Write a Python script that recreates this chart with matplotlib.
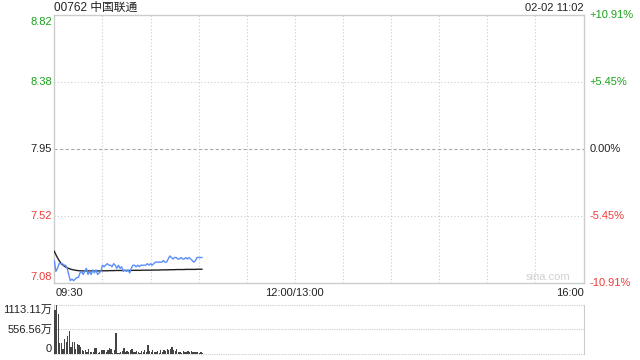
import matplotlib
matplotlib.use("Agg")
from matplotlib import pyplot as plt
import matplotlib.transforms as mtransforms

FONT = ['Liberation Sans', 'Noto Sans CJK SC', 'DejaVu Sans']
plt.rcParams['font.family'] = FONT

# chart data
title = "00762 中国联通"
stamp = "02-02 11:02"
prev_close = 7.95
price_ticks = [8.817, 8.383, 7.95, 7.517, 7.083]
price_labels = ["8.82", "8.38", "7.95", "7.52", "7.08"]
pct_labels = ["+10.91%", "+5.45%", "0.00%", "-5.45%", "-10.91%"]
label_colors = ["#1aa31a", "#1aa31a", "#222222", "#f03b3b", "#f03b3b"]
time_labels = ["09:30", "12:00/13:00", "16:00"]
vol_ticks = [1113.11, 556.56, 0]
vol_labels = ["1113.11万", "556.56万", "0"]

price = [7.23, 7.16, 7.18, 7.21, 7.21, 7.21, 7.20, 7.20, 7.18, 7.14,
         7.10, 7.11, 7.10, 7.11, 7.12, 7.12, 7.15, 7.16, 7.14, 7.16,
         7.18, 7.14, 7.16, 7.14, 7.17, 7.15, 7.17, 7.14, 7.15, 7.16,
         7.20, 7.19, 7.20, 7.21, 7.20, 7.20, 7.19, 7.21, 7.20, 7.18,
         7.20, 7.18, 7.19, 7.16, 7.17, 7.16, 7.17, 7.15, 7.18, 7.20,
         7.20, 7.19, 7.20, 7.19, 7.20, 7.20, 7.20, 7.20, 7.21, 7.20,
         7.21, 7.20, 7.21, 7.22, 7.22, 7.22, 7.22, 7.22, 7.23, 7.22,
         7.22, 7.24, 7.26, 7.25, 7.24, 7.25, 7.25, 7.24, 7.24, 7.25,
         7.24, 7.24, 7.25, 7.24, 7.25, 7.24, 7.23, 7.22, 7.23, 7.25,
         7.25, 7.25, 7.25]

avg_price = [7.290, 7.268, 7.248, 7.230, 7.215, 7.204, 7.196, 7.189, 7.184, 7.179,
             7.175, 7.172, 7.170, 7.168, 7.166, 7.165, 7.164, 7.164, 7.163, 7.163,
             7.163, 7.163, 7.163, 7.163, 7.163, 7.163, 7.163, 7.163, 7.163, 7.163,
             7.164, 7.164, 7.164, 7.164, 7.165, 7.165, 7.165, 7.165, 7.166, 7.166,
             7.166, 7.166, 7.166, 7.166, 7.166, 7.166, 7.166, 7.166, 7.166, 7.167,
             7.167, 7.167, 7.167, 7.167, 7.167, 7.168, 7.168, 7.168, 7.168, 7.168,
             7.168, 7.168, 7.169, 7.169, 7.169, 7.169, 7.169, 7.170, 7.170, 7.170,
             7.170, 7.170, 7.171, 7.171, 7.171, 7.171, 7.172, 7.172, 7.172, 7.172,
             7.172, 7.172, 7.173, 7.173, 7.173, 7.173, 7.173, 7.173, 7.173, 7.174,
             7.174, 7.174, 7.174]

volume = [1000, 1113, 909, 242, 242, 106, 333, 280, 409, 522,
          167, 280, 280, 106, 227, 205, 167, 91, 76, 91,
          53, 106, 53, 38, 38, 144, 129, 15, 38, 91,
          91, 91, 53, 91, 129, 106, 30, 91, 484, 30,
          15, 53, 76, 129, 53, 60, 45, 90, 110, 40,
          35, 70, 50, 30, 60, 45, 80, 40, 210, 70,
          55, 90, 40, 35, 60, 30, 80, 50, 95, 60,
          110, 85, 120, 170, 90, 70, 110, 55, 40, 30,
          60, 45, 35, 70, 50, 60, 40, 55, 35, 45,
          30, 40, 25]

minutes = list(range(len(price)))
total_minutes = 330
GRID = "#cccccc"
FS = 8

fig = plt.figure(figsize=(6.4, 3.6), dpi=100)
ax = fig.add_axes([54.3 / 640, 1 - 283.3 / 360, 529.3 / 640, 268 / 360])
axv = fig.add_axes([54.3 / 640, 1 - 354 / 360, 529.3 / 640, 49 / 360])

# price panel
ax.plot(minutes, avg_price, color="#222222", lw=1.0, zorder=3)
ax.plot(minutes, price, color="#5b8ff9", lw=1.0, zorder=4)
ax.set_xlim(0, total_minutes)
ax.set_ylim(price_ticks[-1], price_ticks[0])
ax.set_xticks([])
ax.set_yticks([])
for s in ax.spines.values():
    s.set_color(GRID)
    s.set_linewidth(1.0)
for m in range(30, total_minutes, 30):
    ax.axvline(m, color=GRID, lw=0.8, ls=(0, (1, 2)), zorder=1)
for v in price_ticks[1:-1]:
    if v == prev_close:
        ax.axhline(v, color="#aaaaaa", lw=0.8, ls=(0, (3, 2)), zorder=1)
    else:
        ax.axhline(v, color=GRID, lw=0.8, ls=(0, (1, 2)), zorder=1)

left = mtransforms.blended_transform_factory(ax.transAxes, ax.transData)
for i, (v, lab, col) in enumerate(zip(price_ticks, price_labels, label_colors)):
    va = "top" if i == 0 else ("bottom" if i == len(price_ticks) - 1 else "center")
    off = -0.01 if i == 0 else (0.01 if i == len(price_ticks) - 1 else 0)
    ax.text(-0.004, v + off, lab, transform=left, ha="right", va=va,
            color=col, fontsize=FS)
for v, lab, col in zip(price_ticks, pct_labels, label_colors):
    ax.text(1.011, v, lab, transform=left, ha="left", va="center",
            color=col, fontsize=FS)

ax.text(0.0, 1.027, title, transform=ax.transAxes, ha="left", va="center",
        fontsize=8.5, color="#222222")
ax.text(1.0, 1.027, stamp, transform=ax.transAxes, ha="right", va="center",
        fontsize=FS, color="#222222")
ax.text(0.975, 0.004, "sina.com", transform=ax.transAxes, ha="right", va="bottom",
        fontsize=8, color="#d0d0d0")

ax.text(0.002, -0.038, time_labels[0], transform=ax.transAxes, ha="left",
        va="center", fontsize=FS, color="#222222")
ax.text(150 / total_minutes, -0.038, time_labels[1], transform=ax.transAxes,
        ha="center", va="center", fontsize=FS, color="#222222")
ax.text(1.0, -0.038, time_labels[2], transform=ax.transAxes, ha="right",
        va="center", fontsize=FS, color="#222222")

# volume panel
axv.bar(minutes, volume, width=0.8, color="#444444", align="edge", zorder=3)
axv.set_xlim(0, total_minutes)
axv.set_ylim(0, vol_ticks[0])
axv.set_xticks([])
axv.set_yticks([])
for side in ["left", "right"]:
    axv.spines[side].set_color(GRID)
for side in ["top", "bottom"]:
    axv.spines[side].set_visible(False)
for v in vol_ticks:
    axv.axhline(v, color=GRID, lw=0.8, ls=(0, (1, 1)), zorder=1, clip_on=False)

vleft = mtransforms.blended_transform_factory(axv.transAxes, axv.transData)
for i, (v, lab) in enumerate(zip(vol_ticks, vol_labels)):
    va = "top" if i == 0 else ("bottom" if i == len(vol_ticks) - 1 else "center")
    axv.text(-0.004, v, lab, transform=vleft, ha="right", va=va,
             fontsize=FS, color="#222222")

plt.savefig("out.png", dpi=100)
